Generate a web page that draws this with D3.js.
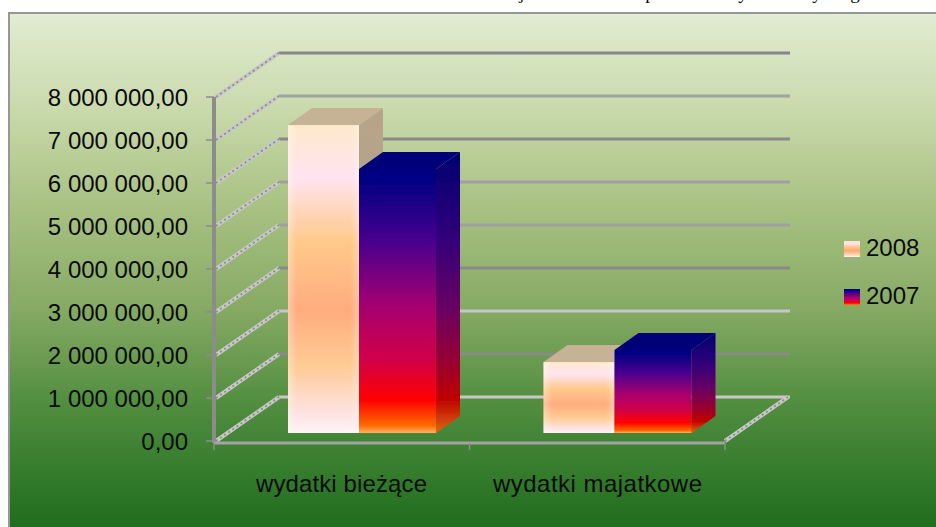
<!DOCTYPE html>
<html>
<head>
<meta charset="utf-8">
<script src="https://cdnjs.cloudflare.com/ajax/libs/d3/7.8.5/d3.min.js"></script>
<style>
  html, body { margin: 0; padding: 0; background: #fff; overflow: hidden; }
  text { font-family: "Liberation Sans", sans-serif; fill: #0a0a0a; }
</style>
</head>
<body>
<div id="chart"></div>
<script>
const categories = ["wydatki bieżące", "wydatki majatkowe"];
const seriesNames = ["2008", "2007"];
const values2008 = [7160000, 1650000];
const values2007 = [6140000, 1930000];
const yTicks = [0, 1000000, 2000000, 3000000, 4000000, 5000000, 6000000, 7000000, 8000000];
const clippedTitle = ["j", "p", "y", "y", "g"];
const clippedTitleX = [522, 650, 743, 817, 855];

const w = 936, h = 527;
const floor = { dx: 65, dy: -44 };
const depth = { dx: 24, dy: -17 };
const lift = 8;

const svg = d3.select("#chart").append("svg").attr("width", w).attr("height", h).style("display", "block");
const defs = svg.append("defs");

function gradient(id, stops, horizontal) {
  const g = defs.append("linearGradient").attr("id", id)
    .attr("x1", 0).attr("y1", 0)
    .attr("x2", horizontal ? 1 : 0).attr("y2", horizontal ? 0 : 1);
  stops.forEach(s => g.append("stop").attr("offset", s[0]).attr("stop-color", s[1]).attr("stop-opacity", s[2] === undefined ? 1 : s[2]));
}

gradient("bg", [[0, "#e1ecd3"], [0.17, "#cbdbae"], [0.36, "#aac284"], [0.56, "#86aa64"], [0.75, "#4f8c3e"], [1, "#1a6a1a"]]);
gradient("front2008", [[0, "#ffe8c8"], [0.17, "#ffe2f0"], [0.38, "#ffc684"], [0.6, "#ffa878"], [0.78, "#ffc88e"], [0.95, "#fde4e8"], [1, "#fff4f4"]]);
gradient("front2007", [[0, "#000080"], [0.04, "#000084"], [0.28, "#4a008e"], [0.53, "#a8006e"], [0.72, "#d00048"], [0.875, "#ff0000"], [0.97, "#ff6800"], [1, "#ffb060"]]);
gradient("side2007", [[0, "#000070"], [0.3, "#30007a"], [0.55, "#680064"], [0.75, "#980030"], [0.88, "#c00000"], [1, "#d86a10"]]);
gradient("side2008", [[0, "#b8a488"], [1, "#a8a090"]]);
gradient("edge", [[0, "#fff", 0.35], [0.12, "#fff", 0.05], [0.88, "#fff", 0.05], [1, "#fff", 0.3]], true);

defs.append("filter").attr("id", "soft").append("feGaussianBlur").attr("stdDeviation", 0.6);

// tlo wykresu
svg.append("rect").attr("x", 9).attr("y", 13).attr("width", w).attr("height", h)
  .attr("fill", "url(#bg)").attr("stroke", "#979797").attr("stroke-width", 2);

// ucieta linia tekstu nad wykresem
svg.append("g").selectAll("text").data(clippedTitle).join("text")
  .attr("x", (d, i) => clippedTitleX[i]).attr("y", -1)
  .attr("text-anchor", "middle")
  .style("font-family", "'Liberation Serif', serif").style("font-size", "19px")
  .text(d => d);

const x0 = d3.scaleBand().domain(categories).range([214, 725]);
const seriesOffset = d3.scaleOrdinal(seriesNames, [74, 145]);
const seriesWidth = d3.scaleOrdinal(seriesNames, [71, 77]);
const y = d3.scaleLinear().domain([0, 8000000]).range([441, 97]);

const plot = svg.append("g").attr("filter", "url(#soft)");

const gridColors = ["#c8c8c8", "#8a8a8a", "#c6c6c6", "#8a8a8a", "#a0a0a0", "#a0a0a0", "#8a8a8a", "#a2a2a2", "#868686"];

plot.append("g").selectAll("line").data(yTicks).join("line")
  .attr("x1", x0.range()[0] + floor.dx).attr("x2", x0.range()[1] + floor.dx)
  .attr("y1", d => y(d) + floor.dy).attr("y2", d => y(d) + floor.dy)
  .attr("stroke", (d, i) => gridColors[i]).attr("stroke-width", 3);

// sciana boczna i prawa krawedz podlogi, kropkowane
const wallLines = yTicks.map(d => ({ x: x0.range()[0] + 2, v: d }));
wallLines.push({ x: x0.range()[1], v: 0 });
const sideWall = plot.append("g");
[["#c8c8c8", null, 4], ["#8c8c8c", "2 3", 1.8]].forEach(s => {
  sideWall.append("g").selectAll("line").data(wallLines).join("line")
    .attr("x1", d => d.x).attr("x2", d => d.x + floor.dx - 2)
    .attr("y1", d => y(d.v)).attr("y2", d => y(d.v) + floor.dy)
    .attr("stroke", s[0]).attr("stroke-dasharray", s[1]).attr("stroke-width", s[2]);
});

// osie
plot.append("line").attr("x1", 214).attr("x2", 214).attr("y1", y(8000000)).attr("y2", y(0) + 2)
  .attr("stroke", "#8c8c8c").attr("stroke-width", 4);
plot.append("line").attr("x1", 214).attr("x2", x0.range()[1]).attr("y1", y(0) + 2).attr("y2", y(0) + 2)
  .attr("stroke", "#a4a4a4").attr("stroke-width", 3);
plot.append("g").selectAll("line").data(yTicks).join("line")
  .attr("x1", 206).attr("x2", 214).attr("y1", d => y(d)).attr("y2", d => y(d))
  .attr("stroke", "#8c8c8c").attr("stroke-width", 1.5);
plot.append("g").selectAll("line").data([214, x0(categories[1]), x0.range()[1]]).join("line")
  .attr("x1", d => d).attr("x2", d => d).attr("y1", y(0) + 2).attr("y2", y(0) + 9)
  .attr("stroke", "#8c8c8c").attr("stroke-width", 1.5);

// slupki
const bars = [];
categories.forEach((c, i) => {
  bars.push({ cat: c, series: "2008", value: values2008[i] });
  bars.push({ cat: c, series: "2007", value: values2007[i] });
});

const barG = plot.append("g").selectAll("g").data(bars).join("g");
const points = p => p.map(q => q.join(",")).join(" ");
const geom = d => {
  const l = x0(d.cat) + seriesOffset(d.series);
  return { l, r: l + seriesWidth(d.series), t: y(d.value) - lift, b: y(0) - lift };
};

barG.append("polygon")
  .attr("points", d => {
    const g = geom(d);
    return points([[g.r, g.t], [g.r + depth.dx, g.t + depth.dy], [g.r + depth.dx, g.b + depth.dy], [g.r, g.b]]);
  })
  .attr("fill", d => `url(#side${d.series})`);
barG.append("polygon")
  .attr("points", d => {
    const g = geom(d);
    return points([[g.l, g.t], [g.l + depth.dx, g.t + depth.dy], [g.r + depth.dx, g.t + depth.dy], [g.r, g.t]]);
  })
  .attr("fill", d => d.series === "2008" ? "#c6b294" : "#000078");
barG.append("rect")
  .attr("x", d => geom(d).l).attr("y", d => geom(d).t)
  .attr("width", d => seriesWidth(d.series))
  .attr("height", d => geom(d).b - geom(d).t)
  .attr("fill", d => `url(#front${d.series})`);
barG.filter(d => d.series === "2008").append("rect")
  .attr("x", d => geom(d).l).attr("y", d => geom(d).t)
  .attr("width", d => seriesWidth(d.series))
  .attr("height", d => geom(d).b - geom(d).t)
  .attr("fill", "url(#edge)");

// etykiety osi
const fmt = v => d3.format(",.2f")(v).replace(/,/g, " ").replace(".", ",");
svg.append("g").selectAll("text").data(yTicks).join("text")
  .attr("x", 188).attr("y", d => y(d) + 8.5)
  .attr("text-anchor", "end").style("font-size", "24px")
  .text(d => fmt(d));

svg.append("g").selectAll("text").data(categories).join("text")
  .attr("x", (d, i) => [256, 493][i]).attr("y", 492)
  .attr("textLength", (d, i) => [171, 209][i])
  .style("font-size", "24px")
  .text(d => d);

// legenda
const legend = svg.append("g").selectAll("g").data(seriesNames).join("g")
  .attr("transform", (d, i) => `translate(844,${241 + i * 48})`);
legend.append("rect").attr("width", 16).attr("height", 16).attr("fill", d => `url(#front${d})`);
legend.append("text").attr("x", 22).attr("y", 15).style("font-size", "24px").text(d => d);
</script>
</body>
</html>
